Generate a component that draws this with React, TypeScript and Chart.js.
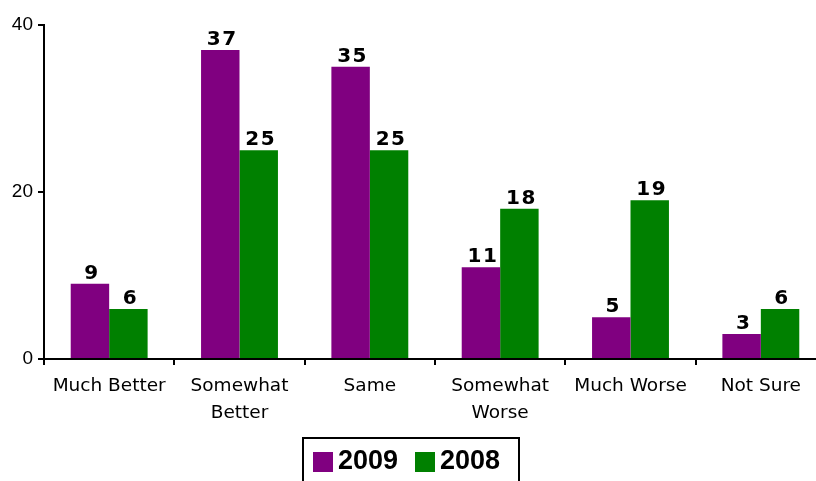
import React, { useEffect, useRef } from "react";
import { Chart, registerables } from "chart.js";

Chart.register(...registerables);

const categories: (string | string[])[] = [
  "Much Better",
  ["Somewhat", "Better"],
  "Same",
  ["Somewhat", "Worse"],
  "Much Worse",
  "Not Sure",
];
const series2009 = [9, 37, 35, 11, 5, 3];
const series2008 = [6, 25, 25, 18, 19, 6];
const seriesLabels = ["2009", "2008"];
const seriesColors = ["#800080", "#008000"];
const yTicks = [0, 20, 40];

const CANVAS_W = 826;
const CANVAS_H = 481;

const valueLabelPlugin = {
  id: "valueLabels",
  afterDatasetsDraw(chart: any) {
    const ctx = chart.ctx;
    ctx.save();
    ctx.font = "bold 20px 'DejaVu Sans'";
    try {
      (ctx as any).letterSpacing = "1.5px";
    } catch (e) {}
    ctx.fillStyle = "#000";
    ctx.textAlign = "center";
    ctx.textBaseline = "alphabetic";
    chart.data.datasets.forEach((ds: any, i: number) => {
      const meta = chart.getDatasetMeta(i);
      meta.data.forEach((el: any, j: number) => {
        ctx.fillText(String(ds.data[j]), el.x + 2, el.y - 5);
      });
    });
    try {
      (ctx as any).letterSpacing = "0px";
    } catch (e) {}
    ctx.restore();
  },
};

const legendPlugin = {
  id: "boxLegend",
  afterDraw(chart: any) {
    const ctx = chart.ctx;
    ctx.save();
    try {
      (ctx as any).letterSpacing = "0px";
    } catch (e) {}
    ctx.strokeStyle = "#000";
    ctx.lineWidth = 2;
    ctx.strokeRect(303, 438, 216, 60);
    ctx.font = "bold 27px Arial, 'Liberation Sans', sans-serif";
    ctx.textBaseline = "alphabetic";
    ctx.textAlign = "left";
    const items = [
      { x: 313, tx: 338 },
      { x: 415, tx: 440 },
    ];
    chart.data.datasets.forEach((ds: any, i: number) => {
      const it = items[i];
      ctx.fillStyle = ds.backgroundColor;
      ctx.fillRect(it.x, 452, 20, 20);
      ctx.fillStyle = "#000";
      ctx.fillText(ds.label, it.tx, 469);
    });
    ctx.restore();
  },
};

export default function App() {
  const ref = useRef<HTMLCanvasElement>(null);
  useEffect(() => {
    if (!ref.current) return;
    const chart = new Chart(ref.current, {
      type: "bar",
      data: {
        labels: categories,
        datasets: [
          {
            label: seriesLabels[0],
            data: series2009,
            backgroundColor: seriesColors[0],
            categoryPercentage: 0.59,
            barPercentage: 1,
          },
          {
            label: seriesLabels[1],
            data: series2008,
            backgroundColor: seriesColors[1],
            categoryPercentage: 0.59,
            barPercentage: 1,
          },
        ],
      },
      options: {
        responsive: false,
        animation: false,
        layout: { padding: { top: 25, left: 0, right: 0, bottom: 0 } },
        plugins: {
          legend: { display: false },
          tooltip: { enabled: false },
        },
        scales: {
          x: {
            grid: {
              offset: true,
              drawOnChartArea: false,
              drawTicks: true,
              tickLength: 6,
              color: "#000",
              lineWidth: 2,
            },
            border: { color: "#000", width: 2 },
            ticks: {
              color: "#000",
              font: { family: "'DejaVu Sans'", size: 18.5, lineHeight: 1.5 },
              padding: 7,
              maxRotation: 0,
              autoSkip: false,
            },
            afterFit(scale: any) {
              scale.height = CANVAS_H - 359;
            },
          },
          y: {
            min: 0,
            max: 40,
            afterBuildTicks(scale: any) {
              scale.ticks = yTicks.map((v) => ({ value: v }));
            },
            grid: {
              drawOnChartArea: false,
              drawTicks: true,
              tickLength: 6,
              color: "#000",
              lineWidth: 2,
            },
            border: { color: "#000", width: 2 },
            ticks: {
              color: "#000",
              font: { family: "Arial, 'Liberation Sans', sans-serif", size: 19 },
              padding: 5,
            },
            afterFit(scale: any) {
              scale.width = 44;
            },
          },
        },
      },
      plugins: [valueLabelPlugin, legendPlugin],
    });
    return () => chart.destroy();
  }, []);
  return (
    <div
      style={{
        position: "fixed",
        left: 0,
        top: 0,
        width: 816,
        height: 481,
        overflow: "hidden",
        background: "#fff",
      }}
    >
      <canvas ref={ref} width={CANVAS_W} height={CANVAS_H} style={{ display: "block" }} />
    </div>
  );
}
